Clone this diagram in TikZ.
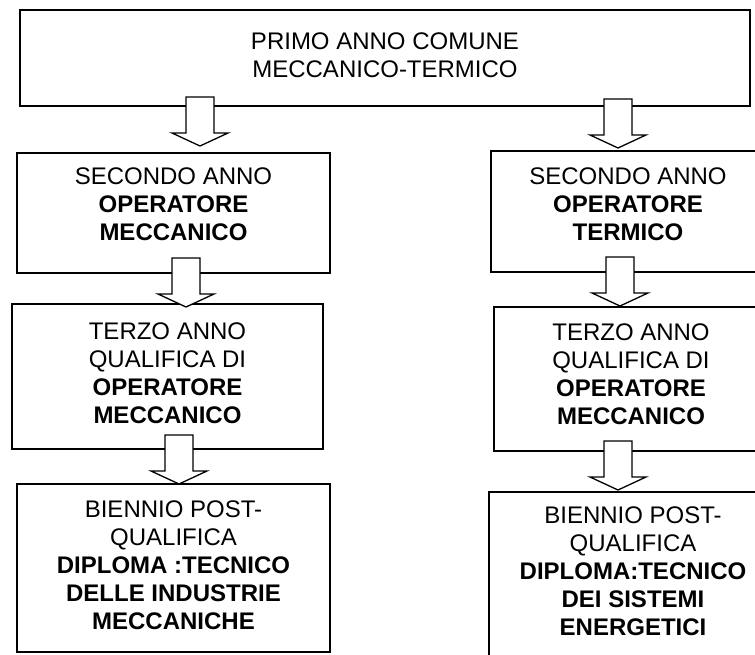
\documentclass[tikz,border=0pt]{standalone}
\usepackage{fontspec}
\setmainfont{Liberation Sans}
\usepackage{tikz}
\usetikzlibrary{positioning}

\tikzset{
  box/.style={draw=black, line width=1.3pt, rectangle, inner sep=0pt},
  txt/.style={inner sep=0pt, align=center, font=\fontsize{24}{28}\selectfont},
  barrow/.style={draw=black, fill=white, line width=1.3pt, line join=miter}
}
% block arrow: top point, shaft length, head length
\newcommand{\blockarrow}[3]{%
  \draw[barrow] (#1) ++(-14,0) -- ++(0,#2) -- ++(-14,0) -- ++(28,#3)
    -- ++(28,-#3) -- ++(-14,0) -- ++(0,-#2) -- cycle;}

\begin{document}
\begin{tikzpicture}[x=1pt, y=-1pt]
  \useasboundingbox (0,0) rectangle (755,655);
  \clip (0,0) rectangle (755,655);

  \node (pa) [box, minimum width=730pt, minimum height=96pt] at (385,58) {};
  \node (s2l) [box, minimum width=313pt, minimum height=120pt] at (173.5,213) {};
  \node (s3l) [box, minimum width=311pt, minimum height=145pt] at (167.5,376.5) {};
  \node (s4l) [box, minimum width=313pt, minimum height=168pt] at (173.5,568) {};
  \node (s2r) [box, minimum width=274pt, minimum height=121pt] at (628,211.5) {};
  \node (s3r) [box, minimum width=274pt, minimum height=144pt] at (631,379) {};
  \node (s4r) [box, minimum width=288pt, minimum height=188pt] at (633,586) {};

  \node (pat) [txt, below=23pt of pa.north] {PRIMO ANNO COMUNE\\MECCANICO-TERMICO};
  \node (s2lt) [txt, below=15pt of s2l.north] {SECONDO ANNO\\\textbf{OPERATORE}\\\textbf{MECCANICO}};
  \node (s3lt) [txt, below=19pt of s3l.north] {TERZO ANNO\\QUALIFICA DI\\\textbf{OPERATORE}\\\textbf{MECCANICO}};
  \node (s4lt) [txt, below=17pt of s4l.north] {BIENNIO POST-\\QUALIFICA\\\textbf{DIPLOMA :TECNICO}\\\textbf{DELLE INDUSTRIE}\\\textbf{MECCANICHE}};
  \node (s2rt) [txt, below=17pt of s2r.north] {SECONDO ANNO\\\textbf{OPERATORE}\\\textbf{TERMICO}};
  \node (s3rt) [txt, below=17pt of s3r.north] {TERZO ANNO\\QUALIFICA DI\\\textbf{OPERATORE}\\\textbf{MECCANICO}};
  \node (s4rt) [txt, below=15pt of s4r.north] {BIENNIO POST-\\QUALIFICA\\\textbf{DIPLOMA:TECNICO}\\\textbf{DEI SISTEMI}\\\textbf{ENERGETICI}};

  \coordinate (a1) at (200,97);
  \coordinate (a2) at (618,99);
  \coordinate (a3) at (186,258);
  \coordinate (a4) at (620,257);
  \coordinate (a5) at (179,435);
  \coordinate (a6) at (618,441);

  \foreach \a in {a1,a2,a3,a4,a5,a6}
    \blockarrow{\a}{36}{13};
\end{tikzpicture}
\end{document}
